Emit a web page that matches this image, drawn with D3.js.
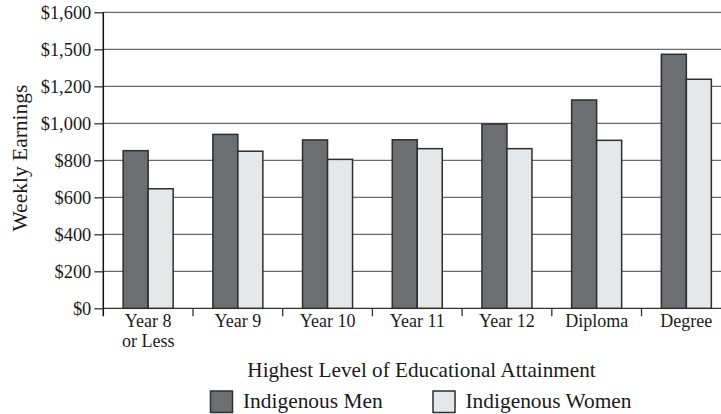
<!DOCTYPE html>
<html><head><meta charset="utf-8">
<script src="https://cdn.jsdelivr.net/npm/d3@7"></script>
<style>
html,body{margin:0;padding:0;background:#fff;}
svg{display:block;font-family:"Liberation Serif","Times New Roman",serif;}
</style></head>
<body><svg id="c" width="721" height="414"></svg>
<script>
const categories = ["Year 8\nor Less","Year 9","Year 10","Year 11","Year 12","Diploma","Degree"];
const menValues = [852, 940, 910, 911, 996, 1126, 1373];
const womenValues = [646, 849, 805, 863, 863, 908, 1238];
const seriesNames = ["Indigenous Men","Indigenous Women"];
const yTickValues = [0,200,400,600,800,1000,1200,1400,1600];
const yTickLabels = ["$0","$200","$400","$600","$800","$1,000","$1,200","$1,500","$1,600"];

(function(){
const svg = d3.select("#c");
const W = 721;
const plotLeft = 103.3, plotTop = 12.3, plotBottom = 308.3;
const step = 89.7;
const x = d3.scaleBand().domain(categories).range([plotLeft, plotLeft + step*categories.length])
  .paddingInner(0.4426).paddingOuter(0.2213);
const y = d3.scaleLinear().domain([0,1600]).range([plotBottom, plotTop]);
const sub = d3.scaleBand().domain([0,1]).range([0, x.bandwidth()]);
const colors = ["#6d6e71","#e6e7e8"];
const textCol = "#1a1a1a";

// gridlines
svg.append("g").selectAll("line").data(yTickValues).join("line")
  .attr("x1", plotLeft).attr("x2", W).attr("y1", d=>y(d)).attr("y2", d=>y(d))
  .attr("stroke", d=> d===0 ? "#333" : "#6a6a6a").attr("stroke-width", 1.3);

// bars
const series = [menValues, womenValues];
const g = svg.append("g");
series.forEach((vals, si) => {
  g.selectAll(null).data(categories).join("rect")
    .attr("x", d => x(d) + sub(si))
    .attr("width", sub.bandwidth())
    .attr("y", (d,i) => y(vals[i]))
    .attr("height", (d,i) => y(0) - y(vals[i]))
    .attr("fill", colors[si]).attr("stroke", "#2e2e2e").attr("stroke-width", 1.5);
});

// y axis
const yAxis = svg.append("g").attr("transform", `translate(${plotLeft},0)`)
  .call(d3.axisLeft(y).tickValues(yTickValues).tickFormat((d,i)=>yTickLabels[i]).tickSize(9).tickPadding(3));
yAxis.select(".domain").remove();
yAxis.selectAll(".tick line").attr("stroke","#333").attr("stroke-width",1.3);
yAxis.selectAll(".tick text").attr("font-size", 18.4).attr("fill",textCol).attr("font-family","Liberation Serif").attr("dy","0.33em");
svg.append("line").attr("x1", plotLeft).attr("x2", plotLeft).attr("y1", y(1600)).attr("y2", plotBottom+8)
  .attr("stroke","#111").attr("stroke-width",1.5);

// x axis
const xAxis = svg.append("g").attr("transform", `translate(0,${plotBottom})`)
  .call(d3.axisBottom(x).tickSize(0).tickPadding(0));
xAxis.select(".domain").remove();
xAxis.selectAll(".tick text").each(function(d){
  const t = d3.select(this); t.text(null);
  d.split("\n").forEach((line,i)=>{
    t.append("tspan").attr("x",0).attr("y", 19 + i*19.5).text(line);
  });
}).attr("font-size",18).attr("fill",textCol).attr("font-family","Liberation Serif").attr("dy",0);
// category boundary ticks
svg.append("g").selectAll("line").data(categories.slice(1)).join("line")
  .attr("x1", d => x(d) - x.step()*x.paddingInner()/2)
  .attr("x2", d => x(d) - x.step()*x.paddingInner()/2)
  .attr("y1", plotBottom).attr("y2", plotBottom+8)
  .attr("stroke","#333").attr("stroke-width",1.3);

// axis titles
svg.append("text").attr("x", 421.5).attr("y", 377).attr("text-anchor","middle")
  .attr("font-size",21.2).attr("fill",textCol).text("Highest Level of Educational Attainment");
svg.append("text").attr("transform","translate(27,158) rotate(-90)").attr("text-anchor","middle")
  .attr("font-size",21.5).attr("fill",textCol).text("Weekly Earnings");

// legend
const legX = [210.5, 433];
seriesNames.forEach((n,i)=>{
  svg.append("rect").attr("x", legX[i]).attr("y", 391).attr("width", 22).attr("height", 21.5)
    .attr("fill", colors[i]).attr("stroke","#2e2e2e").attr("stroke-width",1.5);
  svg.append("text").attr("x", legX[i]+32.5).attr("y", 408).attr("font-size",21.4).attr("fill",textCol).text(n);
});
})();
</script></body></html>
